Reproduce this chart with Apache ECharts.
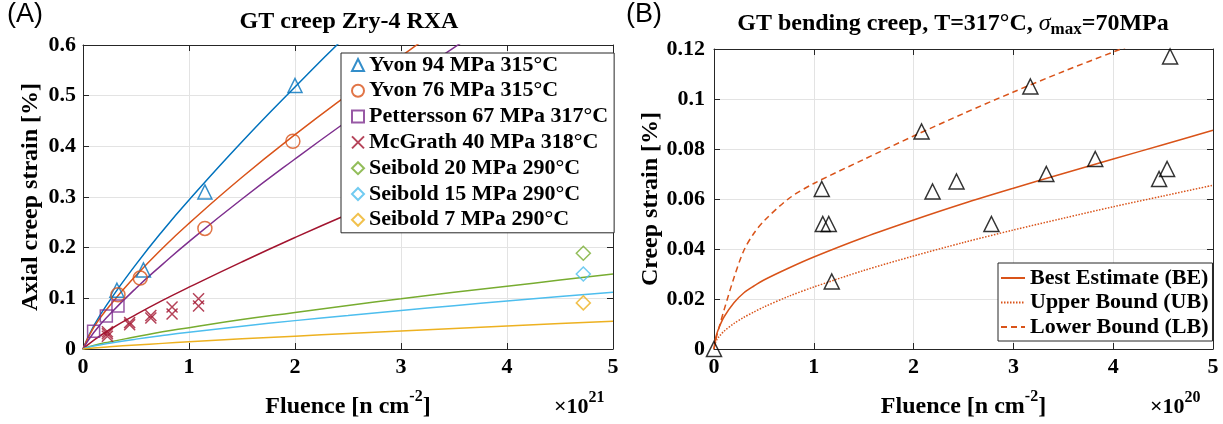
<!DOCTYPE html>
<html><head><meta charset="utf-8">
<script src="https://cdn.jsdelivr.net/npm/echarts@6/dist/echarts.min.js"></script>
<style>html,body{margin:0;padding:0;background:#fff}#c{width:1223px;height:424px}</style>
</head><body><div id="c"></div><script>
// ---------- Panel A data (fluence in 1e21 n/cm2, strain in %) ----------
const yvon94X = [0.32, 0.57, 1.15, 2.0];
const yvon94Y = [0.116, 0.156, 0.31, 0.52];
const yvon76X = [0.33, 0.54, 1.15, 1.98];
const yvon76Y = [0.107, 0.14, 0.238, 0.41];
const pettX = [0.10, 0.22, 0.33];
const pettY = [0.035, 0.065, 0.085];
const mcgX = [0.23, 0.23, 0.23, 0.44, 0.44, 0.64, 0.64, 0.84, 0.84, 1.09, 1.09];
const mcgY = [0.025, 0.03, 0.034, 0.048, 0.052, 0.061, 0.066, 0.069, 0.083, 0.085, 0.099];
const seib20X = [4.72], seib20Y = [0.189];
const seib15X = [4.72], seib15Y = [0.148];
const seib7X = [4.72], seib7Y = [0.091];
const fitX = [0, 0.1, 0.25, 0.5, 0.75, 1, 1.5, 2, 2.5, 3, 3.5, 4, 4.5, 5];
const fitYvon94 = [0, 0.045, 0.095, 0.167, 0.233, 0.294, 0.409, 0.517, 0.621, 0.716, 0.81, 0.9, 0.99, 1.08];
const fitYvon76 = [0, 0.042, 0.085, 0.145, 0.199, 0.248, 0.339, 0.423, 0.502, 0.578, 0.651, 0.72, 0.79, 0.86];
const fitPett = [0, 0.032, 0.068, 0.12, 0.167, 0.212, 0.296, 0.375, 0.451, 0.524, 0.595, 0.663, 0.73, 0.8];
const fitMcg = [0, 0.017, 0.038, 0.068, 0.096, 0.122, 0.172, 0.22, 0.266, 0.31, 0.354, 0.396, 0.438, 0.48];
const fitSeib20 = [0, 0.007, 0.014, 0.024, 0.034, 0.042, 0.058, 0.072, 0.086, 0.099, 0.112, 0.124, 0.136, 0.148];
const fitSeib15 = [0, 0.0058, 0.0115, 0.0195, 0.0265, 0.033, 0.045, 0.056, 0.066, 0.076, 0.0855, 0.0946, 0.1035, 0.112];
const fitSeib7 = [0, 0.002, 0.0044, 0.0079, 0.0111, 0.0142, 0.02, 0.0254, 0.0307, 0.0357, 0.0407, 0.0455, 0.0502, 0.055];
const namesA = ['Yvon 94 MPa 315°C', 'Yvon 76 MPa 315°C', 'Pettersson 67 MPa 317°C', 'McGrath 40 MPa 318°C',
  'Seibold 20 MPa 290°C', 'Seibold 15 MPa 290°C', 'Seibold 7 MPa 290°C'];
const xTicksA = [0, 1, 2, 3, 4, 5];
const yTicksA = [0, 0.1, 0.2, 0.3, 0.4, 0.5, 0.6];

// ---------- Panel B data (fluence in 1e20 n/cm2, strain in %) ----------
const bendX = [0, 1.08, 1.09, 1.15, 1.18, 2.08, 2.19, 2.43, 2.78, 3.17, 3.33, 3.82, 4.46, 4.54, 4.57];
const bendY = [0, 0.064, 0.05, 0.05, 0.027, 0.087, 0.063, 0.067, 0.05, 0.105, 0.07, 0.076, 0.068, 0.072, 0.117];
const boundX = [0, 0.02, 0.05, 0.1, 0.2, 0.3, 0.4, 0.5, 0.75, 1, 1.5, 2, 2.5, 3, 3.5, 4, 4.5, 5];
const bestEst = [0, 0.005, 0.0085, 0.0128, 0.0185, 0.0225, 0.0252, 0.0276, 0.0324, 0.0368, 0.0446, 0.0516, 0.0582, 0.0643, 0.0702, 0.076, 0.0817, 0.0875];
const upperB = [0, 0.0031, 0.0049, 0.0071, 0.0102, 0.0127, 0.0148, 0.0168, 0.0211, 0.0248, 0.0314, 0.0372, 0.0426, 0.0476, 0.0523, 0.0569, 0.0612, 0.0655];
const lowerB = [0, 0.004, 0.0085, 0.0155, 0.0285, 0.0395, 0.0463, 0.0512, 0.0602, 0.0662, 0.0758, 0.0852, 0.0942, 0.1028, 0.111, 0.1188, 0.1265, 0.134];
const namesB = ['Best Estimate (BE)', 'Upper Bound (UB)', 'Lower Bound (LB)'];
const xTicksB = [0, 1, 2, 3, 4, 5];
const yTicksB = [0, 0.02, 0.04, 0.06, 0.08, 0.1, 0.12];

// ---------- styling ----------
const F = 'Liberation Serif';
const C = { blue: '#0072BD', orange: '#D95319', yellow: '#EDB120', purple: '#7E2F8E', green: '#77AC30', cyan: '#4DBEEE', red: '#A2142F' };
const pairs = (xs, ys) => xs.map((x, i) => [x, ys[i]]);
const axisCol = '#262626';
const TICK = 22, LABEL = 24;

function mainX(grid, ticks) {
  return { type: 'value', gridIndex: grid, min: ticks[0], max: ticks[ticks.length - 1], interval: ticks[1] - ticks[0],
    position: 'bottom',
    axisLine: { show: true, onZero: false, lineStyle: { color: axisCol, width: 1 } },
    axisTick: { show: true, inside: true, length: 6, lineStyle: { color: axisCol } },
    axisLabel: { margin: 7, color: '#000', fontFamily: F, fontWeight: 'bold', fontSize: TICK },
    splitLine: { show: true, lineStyle: { color: '#e3e3e3', width: 1 } },
    name: '{m|Fluence [n cm}{sup|-2}{m|]}', nameLocation: 'middle', nameGap: 40,
    nameTextStyle: { color: '#000', fontFamily: F, fontWeight: 'bold', fontSize: LABEL,
      rich: { m: { fontFamily: F, fontWeight: 'bold', fontSize: LABEL, lineHeight: 30, verticalAlign: 'bottom' },
              sup: { fontFamily: F, fontWeight: 'bold', fontSize: 16, verticalAlign: 'top', lineHeight: 16 } } } };
}
function mirrorX(grid, ticks) {
  return { type: 'value', gridIndex: grid, min: ticks[0], max: ticks[ticks.length - 1], interval: ticks[1] - ticks[0],
    position: 'top',
    axisLine: { show: true, onZero: false, lineStyle: { color: axisCol, width: 1 } },
    axisTick: { show: true, inside: true, length: 6, lineStyle: { color: axisCol } },
    axisLabel: { show: false }, splitLine: { show: false } };
}
function mainY(grid, ticks, name, gap, margin) {
  return { type: 'value', gridIndex: grid, min: ticks[0], max: ticks[ticks.length - 1], interval: ticks[1] - ticks[0],
    position: 'left',
    axisLine: { show: true, onZero: false, lineStyle: { color: axisCol, width: 1 } },
    axisTick: { show: true, inside: true, length: 6, lineStyle: { color: axisCol } },
    axisLabel: { margin: margin, color: '#000', fontFamily: F, fontWeight: 'bold', fontSize: TICK },
    splitLine: { show: true, lineStyle: { color: '#e3e3e3', width: 1 } },
    name: name, nameLocation: 'middle', nameGap: gap,
    nameTextStyle: { color: '#000', fontFamily: F, fontWeight: 'bold', fontSize: LABEL } };
}
function mirrorY(grid, ticks) {
  return { type: 'value', gridIndex: grid, min: ticks[0], max: ticks[ticks.length - 1], interval: ticks[1] - ticks[0],
    position: 'right',
    axisLine: { show: true, onZero: false, lineStyle: { color: axisCol, width: 1 } },
    axisTick: { show: true, inside: true, length: 6, lineStyle: { color: axisCol } },
    axisLabel: { show: false }, splitLine: { show: false } };
}
function fit(name, ys, color) {
  return { type: 'line', name: name, xAxisIndex: 0, yAxisIndex: 0, data: pairs(fitX, ys), showSymbol: false, symbol: 'none',
    smooth: 0.5, lineStyle: { color: color, width: 1.5 }, itemStyle: { color: color }, silent: true, z: 2 };
}
function pts(name, xs, ys, color, symbol, size) {
  return { type: 'scatter', name: name, xAxisIndex: 0, yAxisIndex: 0, data: pairs(xs, ys), symbol: symbol, symbolSize: size,
    itemStyle: { color: 'rgba(0,0,0,0)', borderColor: color, borderWidth: 1.5 }, z: 3 };
}
function bound(name, ys, type) {
  return { type: 'line', name: name, xAxisIndex: 2, yAxisIndex: 2, data: pairs(boundX, ys), symbol: 'none', showSymbol: false,
    smooth: 0.3, lineStyle: { color: C.orange, width: 1.5, type: type }, itemStyle: { color: C.orange } };
}
const crossPath = 'path://M0,0L10,10M0,10L10,0';
const supRich = { s: { fontFamily: F, fontWeight: 'bold', fontSize: 16, verticalAlign: 'top', lineHeight: 16 },
                  m: { fontFamily: F, fontWeight: 'bold', fontSize: 22, verticalAlign: 'bottom', lineHeight: 28 } };

const chart = echarts.init(document.getElementById('c'), null, { renderer: 'canvas' });
chart.setOption({
  animation: false,
  backgroundColor: '#fff',
  grid: [
    { left: 83, top: 45, width: 530, height: 304 },
    { left: 714, top: 49, width: 499, height: 300 }
  ],
  xAxis: [mainX(0, xTicksA), mirrorX(0, xTicksA), mainX(1, xTicksB), mirrorX(1, xTicksB)],
  yAxis: [mainY(0, yTicksA, 'Axial creep strain [%]', 40, 7), mirrorY(0, yTicksA),
          mainY(1, yTicksB, 'Creep strain [%]', 51, 9), mirrorY(1, yTicksB)],
  legend: [
    { data: namesA, orient: 'vertical', left: 341, top: 53, backgroundColor: '#fff', borderColor: '#262626', borderWidth: 1,
      padding: [1, 6, 2, 10], itemGap: 3.8, itemWidth: 12, itemHeight: 12, itemTextGap: 6,
      textStyle: { color: '#000', fontFamily: F, fontWeight: 'bold', fontSize: 22, lineHeight: 22 } },
    { data: namesB, orient: 'vertical', left: 998, top: 263, backgroundColor: '#fff', borderColor: '#262626', borderWidth: 1,
      padding: [4, 4, 3, 2], itemGap: 2.5, itemWidth: 24, itemHeight: 14, itemTextGap: 2,
      itemStyle: { color: 'rgba(0,0,0,0)', borderWidth: 0, opacity: 0 },
      textStyle: { color: '#000', fontFamily: F, fontWeight: 'bold', fontSize: 22, lineHeight: 22 } }
  ],
  graphic: [
    { type: 'text', left: 7, top: 1, style: { text: '(A)', fill: '#000', font: '27px "Liberation Sans"' } },
    { type: 'text', left: 626, top: 1, style: { text: '(B)', fill: '#000', font: '27px "Liberation Sans"' } },
    { type: 'text', x: 349, y: 22, style: { text: 'GT creep Zry-4 RXA', fill: '#000', align: 'center', verticalAlign: 'middle',
      font: 'bold 24px "Liberation Serif"' } },
    { type: 'text', x: 953, y: 25, style: {
      text: '{b|GT bending creep, T=317°C, }{i|σ}{s|max}{b|=70MPa}', fill: '#000', align: 'center', verticalAlign: 'middle',
      rich: {
        b: { fontFamily: F, fontWeight: 'bold', fontSize: 24, lineHeight: 26, verticalAlign: 'top' },
        i: { fontFamily: F, fontStyle: 'italic', fontSize: 24, lineHeight: 26, verticalAlign: 'top' },
        s: { fontFamily: F, fontWeight: 'bold', fontSize: 17, lineHeight: 17, padding: [16, 0, 0, 0], verticalAlign: 'bottom' }
      } } },
    { type: 'text', x: 554, y: 390, style: { text: '{m|×10}{s|21}', fill: '#000', rich: supRich } },
    { type: 'text', x: 1150, y: 390, style: { text: '{m|×10}{s|20}', fill: '#000', rich: supRich } }
  ],
  series: [
    fit('fitYvon94', fitYvon94, C.blue),
    fit('fitYvon76', fitYvon76, C.orange),
    fit('fitPett', fitPett, C.purple),
    fit('fitMcg', fitMcg, C.red),
    fit('fitSeib20', fitSeib20, C.green),
    fit('fitSeib15', fitSeib15, C.cyan),
    fit('fitSeib7', fitSeib7, C.yellow),
    pts(namesA[0], yvon94X, yvon94Y, C.blue, 'triangle', 14),
    pts(namesA[1], yvon76X, yvon76Y, C.orange, 'circle', 14),
    pts(namesA[2], pettX, pettY, C.purple, 'rect', 12),
    pts(namesA[3], mcgX, mcgY, C.red, crossPath, 11),
    pts(namesA[4], seib20X, seib20Y, C.green, 'diamond', 14),
    pts(namesA[5], seib15X, seib15Y, C.cyan, 'diamond', 14),
    pts(namesA[6], seib7X, seib7Y, C.yellow, 'diamond', 14),
    bound(namesB[0], bestEst, 'solid'),
    bound(namesB[1], upperB, [1.5, 1.5]),
    bound(namesB[2], lowerB, [6, 4]),
    { type: 'scatter', name: 'bending data', xAxisIndex: 2, yAxisIndex: 2, data: pairs(bendX, bendY), symbol: 'triangle',
      symbolSize: 15, clip: false, itemStyle: { color: 'rgba(0,0,0,0)', borderColor: '#000', borderWidth: 1.5 }, z: 4 }
  ]
});
</script></body></html>
